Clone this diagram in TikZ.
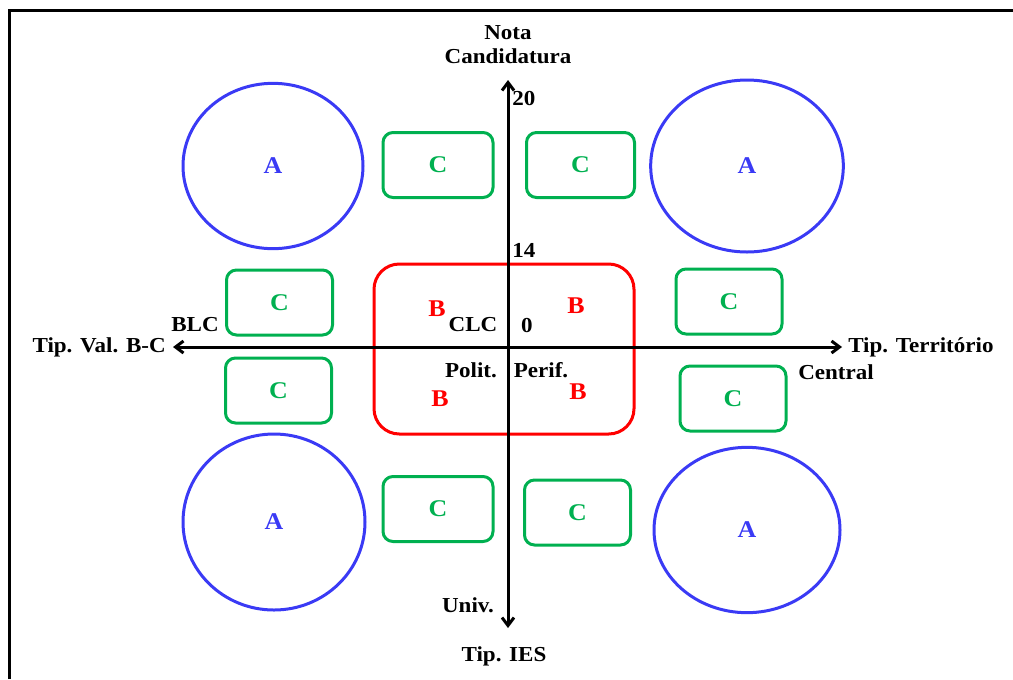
\documentclass[tikz,border=0pt]{standalone}
\usepackage{fontspec}
\setmainfont{Liberation Serif}[FakeStretch=1.08]
\usetikzlibrary{arrows.meta,shapes.geometric}
\definecolor{ablue}{HTML}{3A3AF5}
\definecolor{cgreen}{HTML}{00B050}
\definecolor{bred}{HTML}{FF0000}
\tikzset{
  lbl/.style={font=\bfseries\fontsize{16}{18}\selectfont, inner sep=0pt},
  big/.style={font=\bfseries\fontsize{18}{20}\selectfont, inner sep=0pt},
  abox/.style={draw=ablue, line width=2.25pt, ellipse, text=ablue, font=\bfseries\fontsize{18}{20}\selectfont},
  cbox/.style={draw=cgreen, line width=2.25pt, rounded corners=7.5pt, text=cgreen, minimum width=79.5pt, minimum height=48.75pt, inner sep=0pt, font=\bfseries\fontsize{18}{20}\selectfont},
  axis/.style={line width=2.25pt, {Straight Barb[length=6pt,width=9pt]}-{Straight Barb[length=6pt,width=9pt]}},
}
\begin{document}
\begin{tikzpicture}[x=0.75pt,y=-0.75pt]
\useasboundingbox (0,0) rectangle (1013,679);
% frame
\draw[line width=2.25pt] (9,679) -- (9,10) -- (1013,10);

% blue ellipses
\node[abox, minimum width=135pt, minimum height=124pt] (a1) at (273,166) {A};
\node[abox, minimum width=144.5pt, minimum height=129pt] (a2) at (747,166) {A};
\node[abox, minimum width=136.5pt, minimum height=132pt] (a3) at (274,522) {A};
\node[abox, minimum width=139.5pt, minimum height=124pt] (a4) at (747,530) {A};

% green boxes
\node[cbox, minimum width=82.5pt] (c1) at (438,165) {C};
\node[cbox, minimum width=81pt] (c2) at (580.5,165) {C};
\node[cbox] (c3) at (279.5,302.5) {C};
\node[cbox] (c4) at (278.5,390.5) {C};
\node[cbox] (c5) at (729,301.5) {C};
\node[cbox] (c6) at (733,398.5) {C};
\node[cbox, minimum width=82.5pt] (c7) at (438,509) {C};
\node[cbox] (c8) at (577.5,512.5) {C};

% red rounded rectangle
\node[draw=bred, line width=2.25pt, rounded corners=19pt, minimum width=195pt, minimum height=127.5pt, inner sep=0pt] (red) at (504,349) {};

% axes
\coordinate (top) at (508,80);
\coordinate (bot) at (508,628);
\coordinate (lft) at (173,347);
\coordinate (rgt) at (842,347);
\draw[axis] (bot) -- (top);
\draw[axis] (lft) -- (rgt);

% red B labels
\node[big, text=bred] (b1) at (437,309) {B};
\node[big, text=bred] (b2) at (576,306) {B};
\node[big, text=bred] (b3) at (440,399) {B};
\node[big, text=bred] (b4) at (578,392) {B};

% black labels
\node[lbl, align=center] (nota) at (508,45) {Nota\\Candidatura};
\node[lbl, anchor=west] (n20) at (512,99) {20};
\node[lbl, anchor=west] (n14) at (512,250) {14};
\node[lbl] (clc) at (473,325) {CLC};
\node[lbl] (n0) at (527,326) {0};
\node[lbl] (polit) at (471,370) {Polit.};
\node[lbl] (perif) at (541,370) {Perif.};
\node[lbl] (blc) at (195,325) {BLC};
\node[lbl, anchor=east] (tval) at (166,347) {Tip. Val. B-C};
\node[lbl, anchor=west] (tterr) at (848,347) {Tip. Território};
\node[lbl] (central) at (836,372) {Central};
\node[lbl] (univ) at (468,605) {Univ.};
\node[lbl] (ties) at (504,656) {Tip. IES};
\end{tikzpicture}
\end{document}
